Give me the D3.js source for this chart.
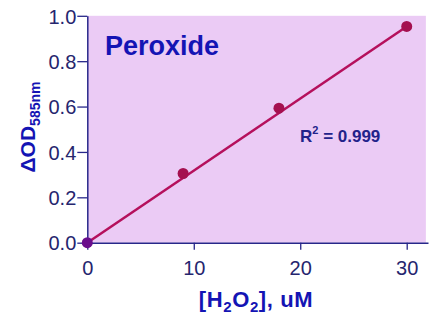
<!DOCTYPE html>
<html>
<head>
<meta charset="utf-8">
<script src="https://cdn.jsdelivr.net/npm/d3@7"></script>
<style>
  body { margin: 0; background: #fff; }
  svg { display: block; font-family: Arial, "Liberation Sans", sans-serif; }
</style>
</head>
<body>
<script>
// standard curve data
const conc = [0, 9, 18, 30]
const od = [0, 0.305, 0.593, 0.953]
const xTicks = [0, 10, 20, 30]
const yTicks = [0, 0.2, 0.4, 0.6, 0.8, 1.0]
const fitLine = [[0, 0], [30, 0.953]]

const W = 440, H = 317
const mLeft = 87.3, mRight = 428, mTop = 15.8, mBottom = 242.7

const svg = d3.select('body').append('svg').attr('width', W).attr('height', H)

const x = d3.scaleLinear().domain([0, 32]).range([mLeft, mRight])
const y = d3.scaleLinear().domain([0, 1]).range([mBottom, mTop])

// plot background
svg.append('rect')
  .attr('x', mLeft).attr('y', mTop)
  .attr('width', x(31.8) - mLeft).attr('height', mBottom - mTop)
  .attr('fill', '#ebcbf5')

const axisColor = '#27278a'

const ax = svg.append('g').attr('transform', `translate(0,${mBottom})`)
  .call(d3.axisBottom(x).tickValues(xTicks).tickSize(7).tickSizeOuter(0))
const ay = svg.append('g').attr('transform', `translate(${mLeft},0)`)
  .call(d3.axisLeft(y).tickValues(yTicks).tickFormat(d3.format('.1f')).tickSize(10).tickPadding(1).tickSizeOuter(0))

;[ax, ay].forEach(g => {
  g.select('.domain').attr('stroke', axisColor).attr('stroke-width', 1.5)
  g.selectAll('.tick line').attr('stroke', axisColor).attr('stroke-width', 1.3)
  g.selectAll('.tick text').attr('fill', '#25256e').attr('font-size', 20)
})
ax.selectAll('.tick text').attr('y', 32).attr('dy', 0)
ay.selectAll('.tick text').attr('dy', '0.36em')

// fit line
const line = d3.line().x(d => x(d[0])).y(d => y(d[1]))
svg.append('path').attr('d', line(fitLine))
  .attr('stroke', '#b5105c').attr('stroke-width', 2.5).attr('fill', 'none')

// points
svg.selectAll('circle.pt').data(conc).enter().append('circle')
  .attr('class', 'pt')
  .attr('cx', d => x(d)).attr('cy', (d, i) => y(od[i]))
  .attr('r', 5.5)
  .attr('fill', (d, i) => i === 0 ? '#6a0d8c' : '#a4104f')

// labels
svg.append('text').attr('x', 105).attr('y', 55)
  .attr('fill', '#1414b4').attr('font-size', 27).attr('font-weight', 'bold')
  .text('Peroxide')

const r2 = svg.append('text').attr('x', 300).attr('y', 142)
  .attr('fill', '#22228a').attr('font-size', 17).attr('font-weight', 'bold')
r2.append('tspan').text('R')
r2.append('tspan').attr('dy', -8).attr('font-size', 11).text('2')
r2.append('tspan').attr('dy', 8).text(' = 0.999')

const xt = svg.append('text').attr('x', 256).attr('y', 307).attr('text-anchor', 'middle')
  .attr('fill', '#1414b4').attr('font-size', 22).attr('font-weight', 'bold')
  .attr('letter-spacing', 0.6)
xt.append('tspan').text('[H')
xt.append('tspan').attr('dy', 5).attr('font-size', 15).text('2')
xt.append('tspan').attr('dy', -5).text('O')
xt.append('tspan').attr('dy', 5).attr('font-size', 15).text('2')
xt.append('tspan').attr('dy', -5).text('], uM')

const yt = svg.append('text').attr('transform', 'translate(35,127) rotate(-90)')
  .attr('text-anchor', 'middle')
  .attr('fill', '#1414b4').attr('font-size', 21).attr('font-weight', 'bold')
yt.append('tspan').text('ΔOD')
yt.append('tspan').attr('dy', 5).attr('font-size', 14).text('585nm')
</script>
</body>
</html>
